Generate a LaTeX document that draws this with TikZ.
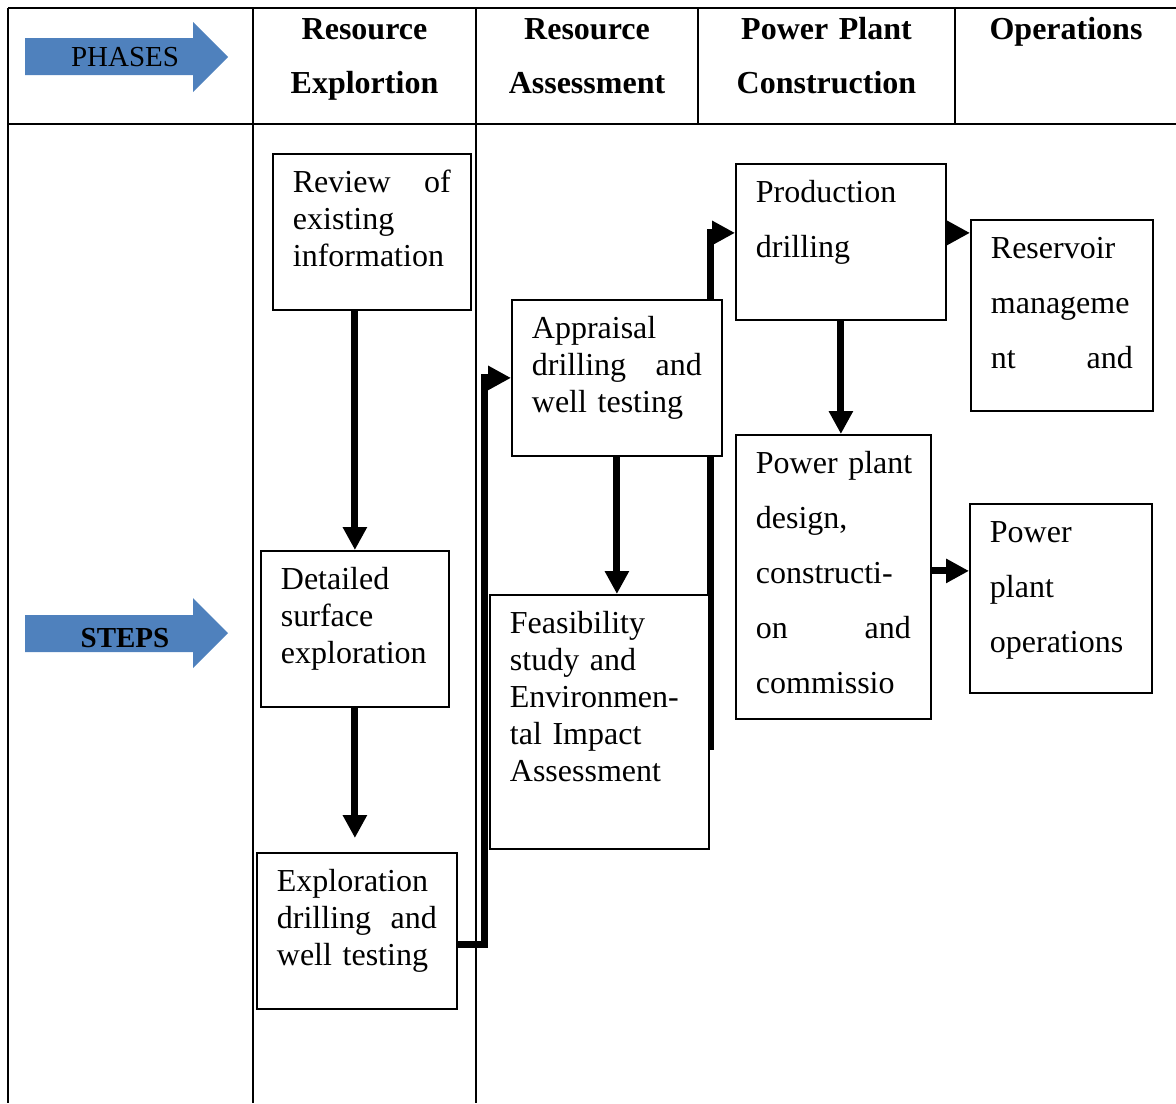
\documentclass[tikz,border=0pt]{standalone}
\usepackage{fontspec}
\setmainfont{Liberation Serif}
\usepackage{tikz}
\usetikzlibrary{arrows.meta, backgrounds}
\definecolor{phaseblue}{RGB}{79,129,189}

\begin{document}
\begin{tikzpicture}[
                                        x=0.5pt, y=-0.5pt,
                                        >={Triangle[width=11.5pt, length=11.5pt]},
                                        grid/.style={line width=1.4pt},
                                        flow/.style={->, line width=3.5pt},
                                        head/.style={font=\bfseries\fontsize{16}{27}\selectfont, text width=120pt, align=center, anchor=base},
                                        tag/.style={font=\fontsize{14.5}{16}\selectfont},
                                        stepbox/.style={draw, line width=0.9pt, fill=white, anchor=north west, align=left,
                                                inner xsep=10pt, inner ysep=7.5pt, text height=12pt,
                                                font=\fontsize{16}{18.5}\selectfont},
                                        wide/.style={font=\fontsize{16}{27.5}\selectfont}
                                ]
                                \useasboundingbox (0,0) rectangle (1176,1103);

                                \fill[phaseblue] (25,38) -- (193,38) -- (193,22) -- (228,57) -- (193,92) -- (193,75) -- (25,75) -- cycle;
                                \node[tag] (phases) at (125,57) {PHASES};
                                \fill[phaseblue] (25,615) -- (193,615) -- (193,598) -- (228,633) -- (193,668) -- (193,652) -- (25,652) -- cycle;
                                \node[tag] (steps) at (125,638) {\textbf{STEPS}};

                                \node[head] (hexp) at (364.5,39.5) {Resource\\Explortion};
                                \node[head] (hass) at (587,39.5) {Resource\\Assessment};
                                \node[head] (hcon) at (826.5,39.5) {Power Plant\\Construction};
                                \node[head] (hops) at (1066,39.5) {Operations};

                                \node[stepbox, text width=79pt, text depth=51pt] (rev) at (272,153) {Review\hfill of\\existing\\information};
                                \node[stepbox, text width=74pt, text depth=51pt] (det) at (260,550) {Detailed\\surface\\exploration};
                                \node[stepbox, text width=80pt, text depth=51pt] (expl) at (256,852) {Exploration\\drilling\hfill and\\well testing};
                                \node[stepbox, text width=85pt, text depth=51pt] (apr) at (511,299) {Appraisal\\drilling\hfill and\\well testing};
                                \node[stepbox, text width=89.5pt, text depth=100pt] (feas) at (489,594) {Feasibility\\study and\\Environmen-\\tal Impact\\Assessment};
                                \node[stepbox, wide, text width=85pt, text depth=51pt] (prod) at (735,163) {Production\\drilling};
                                \node[stepbox, wide, text width=77.5pt, text depth=115pt] (des) at (735,434) {\mbox{Power plant}\\design,\\constructi-\\on\hfill and\\commissio};
                                \node[stepbox, wide, text width=71pt, text depth=68.5pt] (res) at (970,219) {Reservoir\\manageme\\nt\hfill and};
                                \node[stepbox, wide, text width=71pt, text depth=67.5pt] (ops) at (969,503) {Power\\plant\\operations};

                                \coordinate (ex1) at (484,944);
                                \coordinate (fs1) at (710,750);

                                \begin{scope}[on background layer]
                                        \draw[grid] (8,8) -- (1176,8);
                                        \draw[grid] (8,124) -- (1176,124);
                                        \draw[grid] (8,8) -- (8,1103);
                                        \draw[grid] (253,8) -- (253,1103);
                                        \draw[grid] (476,8) -- (476,1103);
                                        \draw[grid] (698,8) -- (698,124);
                                        \draw[grid] (955,8) -- (955,124);

                                        \draw[flow] (rev.south -| det.north) -- (det.north);
                                        \draw[flow, shorten >=7pt] (det.south) -- (det.south |- expl.north);
                                        \draw[flow] (expl.east |- ex1) -- (ex1) |- (apr.west);
                                        \draw[flow] (apr.south) -- (apr.south |- feas.north);
                                        \draw[flow] (fs1) |- ([yshift=4.5pt]prod.west);
                                        \draw[flow] (prod.south) -- (prod.south |- des.north);
                                        \draw[flow] ([yshift=4.5pt]prod.east) -- ([yshift=4.5pt]prod.east -| res.west);
                                        \draw[flow] ([yshift=3pt]des.east) -- ([yshift=3pt]des.east -| ops.west);
                                \end{scope}
                        \end{tikzpicture}
\end{document}
